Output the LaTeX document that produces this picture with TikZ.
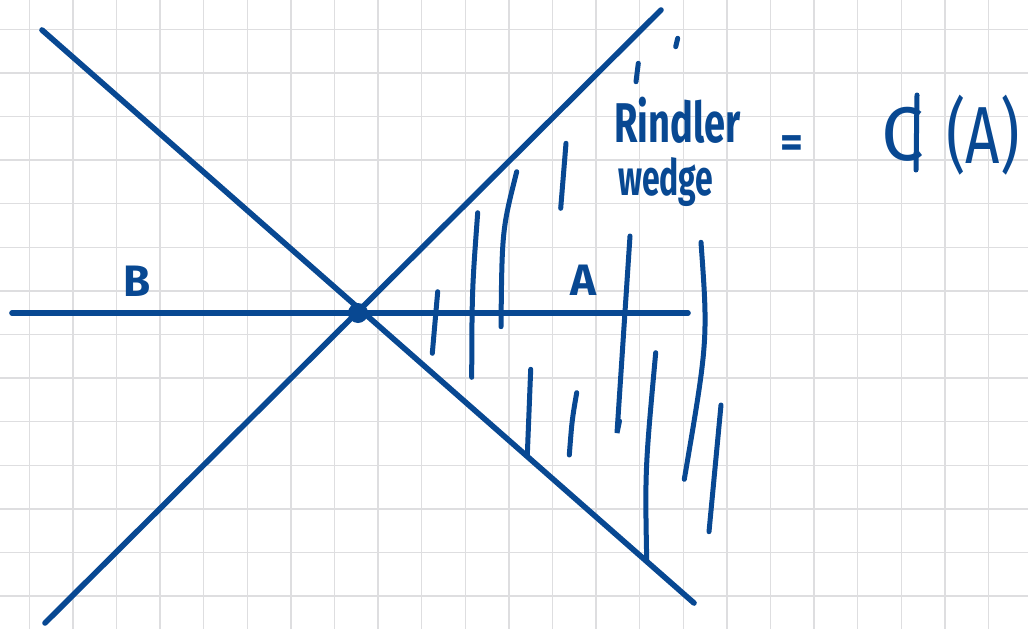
\documentclass[tikz,border=0pt]{standalone}
\usepackage{fontspec}
\usetikzlibrary{calc}
\setmainfont{Fira Sans}
\definecolor{ink}{RGB}{8,72,146}
\definecolor{gridc}{RGB}{222,222,224}
\begin{document}
\begin{tikzpicture}[x=1pt,y=-1pt,
  pen/.style={draw=ink,line width=5.6pt,line cap=round,line join=round},
  hatch/.style={draw=ink,line width=5pt,line cap=round},
  hand/.style={text=ink,inner sep=0pt,font=\fontsize{40}{40}\selectfont\bfseries}]
\useasboundingbox (0,0) rectangle (1028,629);
\fill[white] (0,0) rectangle (1028,629);
% grid
\foreach \k in {0,...,22} {
  \draw[gridc,line width=1.4pt] (29.3+43.6*\k,0) -- (29.3+43.6*\k,629);
}
\foreach \k in {0,...,13} {
  \draw[gridc,line width=1.4pt] (0,29.3+43.6*\k) -- (1028,29.3+43.6*\k);
}
% axes
\coordinate (nw) at (42,30);
\coordinate (se) at (694,603);
\coordinate (sw) at (45,623);
\coordinate (ne) at (661,10);
\coordinate (w) at (12,313);
\coordinate (e) at (688,313);
\draw[pen] (nw) -- (se);
\draw[pen] (sw) -- (ne);
\draw[pen] (w) -- (e);
\node[circle,fill=ink,inner sep=0pt,minimum size=20pt] (o) at (358,313) {};
% hatch strokes
\draw[hatch] (437.7,291.7) -- (432.3,353.3);
\draw[hatch] (477.7,212.7) .. controls (472,290) .. (471.7,377.3);
\draw[hatch] (516.7,171.7) .. controls (502,230) .. (501,326.7);
\draw[hatch] (566,143.3) -- (560.7,208.3);
\draw[hatch] (630,236) -- (617,433) -- (619.5,421);
\draw[hatch] (701,242.3) .. controls (708,340) .. (684.3,479.3);
\draw[hatch] (530.7,369.3) -- (527.3,455);
\draw[hatch] (576.7,392.7) .. controls (572,420) .. (569.3,455);
\draw[hatch] (655.7,352.7) .. controls (645,470) .. (646.7,560);
\draw[hatch] (721,405) -- (709,531.7);
\draw[hatch] (638.3,63.3) -- (636,81.7);
\draw[hatch] (677.7,38.3) -- (675.7,46.7);
% labels
\node[hand,font=\fontsize{44}{44}\selectfont\bfseries] (B) at (137,281) {B};
\node[hand,font=\fontsize{44}{44}\selectfont\bfseries] (A) at (583,280) {A};
\node[hand,anchor=base west,xscale=0.95,yscale=1.4] (rind) at (614,142) {Rindler};
\node[hand,anchor=base west,xscale=0.8,yscale=1.25] (wedge) at (618,195) {wedge};
\node[hand,font=\fontsize{44}{44}\selectfont\bfseries] (eq) at (792,147) {=};
\node[hand,font=\fontsize{76}{76}\selectfont] (cc) at (903,134) {C};
\draw[hatch] ($(cc.center)+(14,-39)$) coordinate (bt) -- ($(cc.center)+(13,36)$) coordinate (bb);
\node[hand,anchor=base west,font=\fontsize{60}{60}\selectfont,yscale=1.35] (pa) at (946,163) {(A)};
\end{tikzpicture}
\end{document}
